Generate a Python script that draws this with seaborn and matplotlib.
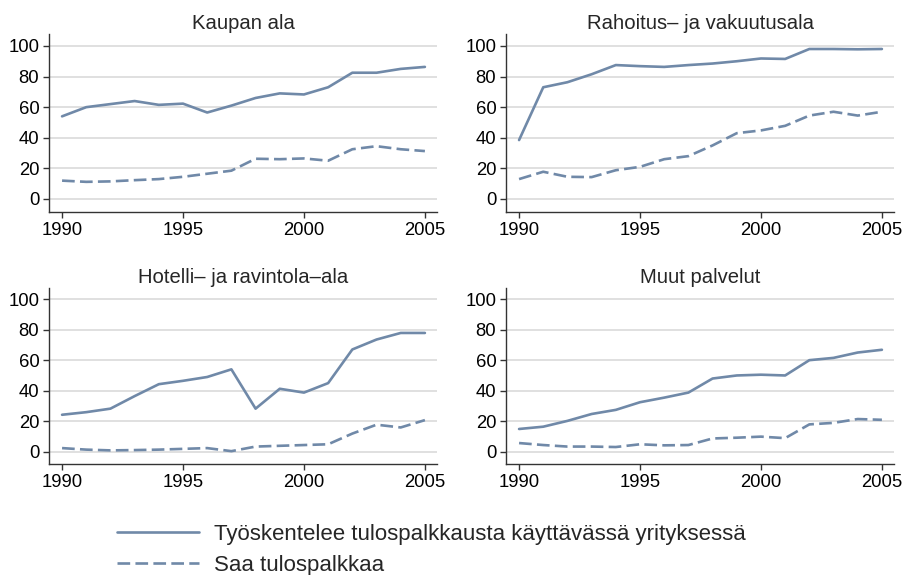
import numpy as np
import pandas as pd
import matplotlib
matplotlib.use("Agg")
import matplotlib.pyplot as plt
import seaborn as sns

years = list(range(1990, 2006))

panels = ["Kaupan ala", "Rahoitus\u2013 ja vakuutusala",
          "Hotelli\u2013 ja ravintola\u2013ala", "Muut palvelut"]
series_names = ["Työskentelee tulospalkkausta käyttävässä yrityksessä",
                "Saa tulospalkkaa"]

kauppa_firm = [54, 60, 62, 64, 61.5, 62.3, 56.5, 61, 66, 69, 68.3, 73, 82.5, 82.5, 85, 86.3]
kauppa_pay = [12, 11.2, 11.5, 12.3, 13, 14.5, 16.5, 18.5, 26.3, 26, 26.5, 25, 32.5, 34.5, 32.5, 31.3]
rahoitus_firm = [38.5, 73, 76.3, 81.5, 87.5, 86.8, 86.3, 87.5, 88.5, 90, 91.8, 91.5, 98, 98, 97.8, 98]
rahoitus_pay = [13, 17.8, 14.5, 14.3, 18.8, 21, 26, 28, 35, 43, 44.8, 47.8, 54.5, 57, 54.5, 57]
hotelli_firm = [24.3, 26, 28.3, 36.5, 44.3, 46.5, 49, 54, 28.3, 41.3, 38.8, 45, 67, 73.5, 77.8, 77.8]
hotelli_pay = [2.5, 1.5, 1, 1.2, 1.5, 2, 2.5, 0.5, 3.5, 4, 4.5, 5, 12, 17.8, 16, 20.8]
muut_firm = [15, 16.5, 20.3, 24.8, 27.5, 32.5, 35.5, 38.8, 48, 50, 50.5, 50, 60, 61.5, 65, 66.8]
muut_pay = [5.8, 4.5, 3.5, 3.5, 3.2, 5, 4.3, 4.5, 8.8, 9.3, 10, 9, 18, 19, 21.5, 21]

y_ticks = [0, 20, 40, 60, 80, 100]
x_ticks = [1990, 1995, 2000, 2005]

panel_data = [(kauppa_firm, kauppa_pay), (rahoitus_firm, rahoitus_pay),
              (hotelli_firm, hotelli_pay), (muut_firm, muut_pay)]

rows = []
for name, (f, p) in zip(panels, panel_data):
    for yr, v in zip(years, f):
        rows.append((name, series_names[0], yr, v))
    for yr, v in zip(years, p):
        rows.append((name, series_names[1], yr, v))
df = pd.DataFrame(rows, columns=["panel", "series", "year", "value"])

sns.set_theme(style="white")
plt.rcParams['font.family'] = ['Liberation Sans', 'DejaVu Sans']

W, H = 905, 575
fig = plt.figure(figsize=(W / 100, H / 100), dpi=100)

line_color = "#7089a8"
spine_color = "#333333"
grid_color = "#dadada"

# pixel boxes (left, top, right, bottom)
boxes = [(49, 34, 437, 212), (506, 34, 894, 212),
         (49, 288, 437, 464), (506, 288, 894, 464)]

axes = []
for name, (l, t, r, b) in zip(panels, boxes):
    ax = fig.add_axes([l / W, 1 - b / H, (r - l) / W, (b - t) / H])
    sub = df[df.panel == name]
    sns.lineplot(data=sub, x="year", y="value", style="series",
                 style_order=series_names,
                 dashes={series_names[0]: "", series_names[1]: (4.8, 2.0)},
                 color=line_color, linewidth=1.9, ax=ax, legend=(name == panels[0]))
    ax.set_xlim(1989.46, 2005.5)
    if t == 34:
        ax.set_ylim(-8.5, 107.8)
    else:
        ax.set_ylim(-7.9, 107.2)
    ax.set_yticks(y_ticks)
    ax.set_xticks(x_ticks)
    ax.set_xlabel("")
    ax.set_ylabel("")
    ax.set_title(name, fontsize=14.6, pad=3.5)
    for s in ["top", "right"]:
        ax.spines[s].set_visible(False)
    for s in ["left", "bottom"]:
        ax.spines[s].set_color(spine_color)
        ax.spines[s].set_linewidth(1.0)
    ax.yaxis.grid(True, color=grid_color, linewidth=1.2)
    ax.xaxis.grid(False)
    ax.set_axisbelow(True)
    ax.tick_params(axis="both", which="major", length=4.5, width=1,
                   color=spine_color, labelsize=13.3, labelcolor="black",
                   left=True, bottom=True, pad=2.5)
    axes.append(ax)

handles, labels = axes[0].get_legend_handles_labels()
axes[0].get_legend().remove()
leg = fig.legend(handles, labels, loc="upper left",
                 bbox_to_anchor=(97 / W, 1 - 504 / H),
                 frameon=False, handlelength=3.7,
                 handletextpad=0.68, labelspacing=0.46,
                 prop={'family': ['Liberation Sans', 'DejaVu Sans'], 'size': 16})
for h in leg.get_lines():
    h.set_linewidth(1.9)
    h.set_color(line_color)

fig.savefig("out.png", dpi=100)
